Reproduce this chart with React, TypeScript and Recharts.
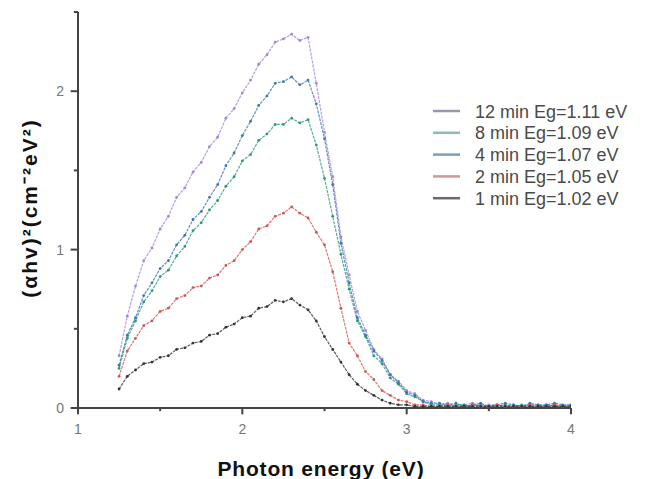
import React from 'react';
import { LineChart, Line, XAxis, YAxis, ReferenceLine } from 'recharts';

const energy = [
  1.25, 1.3, 1.35, 1.4, 1.45, 1.5, 1.55, 1.6, 1.65, 1.7, 1.75, 1.8, 1.85, 1.9, 1.95,
  2.0, 2.05, 2.1, 2.15, 2.2, 2.25, 2.3, 2.35, 2.4, 2.45, 2.5, 2.55, 2.6, 2.65, 2.7,
  2.75, 2.8, 2.85, 2.9, 2.95, 3.0, 3.05, 3.1, 3.15, 3.2, 3.25, 3.3, 3.35, 3.4, 3.45,
  3.5, 3.55, 3.6, 3.65, 3.7, 3.75, 3.8, 3.85, 3.9, 3.95, 4.0,
];

const min12 = [
  0.33, 0.58, 0.77, 0.93, 1.01, 1.13, 1.21, 1.33, 1.39, 1.49, 1.55, 1.65, 1.71, 1.83, 1.89,
  1.99, 2.07, 2.17, 2.23, 2.31, 2.33, 2.36, 2.32, 2.34, 2.05, 1.74, 1.46, 1.08, 0.84, 0.61,
  0.49, 0.37, 0.31, 0.21, 0.17, 0.11, 0.09, 0.05, 0.04, 0.02, 0.03, 0.01, 0.02, 0.03, 0.01,
  0.02, 0.02, 0.01, 0.02, 0.01, 0.02, 0.02, 0.01, 0.02, 0.01, 0.02,
];

const min8 = [
  0.25, 0.44, 0.55, 0.67, 0.74, 0.83, 0.87, 0.96, 1.02, 1.12, 1.17, 1.25, 1.31, 1.4, 1.46,
  1.56, 1.6, 1.69, 1.73, 1.79, 1.79, 1.83, 1.8, 1.82, 1.66, 1.45, 1.21, 0.97, 0.75, 0.55,
  0.45, 0.33, 0.28, 0.19, 0.15, 0.09, 0.07, 0.04, 0.02, 0.02, 0.01, 0.02, 0.02, 0.01, 0.02,
  0.01, 0.01, 0.02, 0.01, 0.02, 0.01, 0.01, 0.02, 0.01, 0.01, 0.01,
];

const min4 = [
  0.27, 0.46, 0.57, 0.71, 0.79, 0.88, 0.93, 1.03, 1.09, 1.19, 1.24, 1.33, 1.41, 1.53, 1.61,
  1.72, 1.81, 1.91, 1.97, 2.05, 2.06, 2.09, 2.04, 2.07, 1.92, 1.7, 1.41, 1.04, 0.79, 0.57,
  0.46, 0.36, 0.3, 0.21, 0.16, 0.1, 0.08, 0.04, 0.03, 0.03, 0.02, 0.03, 0.01, 0.02, 0.03,
  0.01, 0.02, 0.03, 0.02, 0.01, 0.03, 0.02, 0.02, 0.03, 0.02, 0.02,
];

const min2 = [
  0.2, 0.36, 0.44, 0.52, 0.55, 0.61, 0.63, 0.69, 0.71, 0.76, 0.77, 0.82, 0.84, 0.9, 0.93,
  1.0, 1.05, 1.13, 1.15, 1.21, 1.23, 1.27, 1.23, 1.2, 1.11, 1.03, 0.86, 0.63, 0.41, 0.33,
  0.23, 0.18, 0.11, 0.08, 0.05, 0.04, 0.02, 0.02, 0.01, 0.01, 0.02, 0.01, 0.01, 0.02, 0.01,
  0.01, 0.02, 0.01, 0.01, 0.01, 0.02, 0.01, 0.01, 0.02, 0.01, 0.01,
];

const min1 = [
  0.12, 0.2, 0.24, 0.28, 0.29, 0.32, 0.33, 0.37, 0.38, 0.41, 0.42, 0.46, 0.47, 0.51, 0.53,
  0.57, 0.58, 0.63, 0.64, 0.68, 0.67, 0.69, 0.65, 0.62, 0.55, 0.45, 0.37, 0.29, 0.21, 0.15,
  0.11, 0.08, 0.05, 0.03, 0.02, 0.02, 0.01, 0.01, 0.01, 0.01, 0.01, 0.01, 0.01, 0.01, 0.01,
  0.01, 0.01, 0.01, 0.01, 0.01, 0.01, 0.01, 0.01, 0.01, 0.01, 0.01,
];

const legendLabels = [
  '12 min Eg=1.11 eV',
  '8 min Eg=1.09 eV',
  '4 min Eg=1.07 eV',
  '2 min Eg=1.05 eV',
  '1 min Eg=1.02 eV',
];

const seriesKeys = ['s12', 's8', 's4', 's2', 's1'];
const seriesColors = ['#a585d6', '#2b9c72', '#3a76b8', '#d25552', '#333333'];
const legendColors = ['#9f93b3', '#8cbfa8', '#7d9cc0', '#c99a98', '#6a6a6a'];

const xTicks = [1, 1.5, 2, 2.5, 3, 3.5, 4];
const yTicks = [0, 0.5, 1, 1.5, 2, 2.5];

const rows = energy.map((e, i) => ({
  e,
  s12: min12[i],
  s8: min8[i],
  s4: min4[i],
  s2: min2[i],
  s1: min1[i],
}));

const FONT = '"Liberation Sans", Arial, sans-serif';

const XTick = (props: any) => {
  const { x, y, payload } = props;
  if (!Number.isInteger(payload.value)) return <g />;
  return (
    <text x={x} y={y + 20} textAnchor="middle" fontSize={14} fill="#777" fontFamily={FONT}>
      {payload.value}
    </text>
  );
};

const YTick = (props: any) => {
  const { x, y, payload } = props;
  if (!Number.isInteger(payload.value)) return <g />;
  return (
    <text x={x - 8} y={y + 5} textAnchor="end" fontSize={14} fill="#777" fontFamily={FONT}>
      {payload.value}
    </text>
  );
};

export default function App() {
  const order = [0, 1, 2, 3, 4];
  return (
    <div style={{ position: 'absolute', left: 0, top: 0, width: 645, height: 479, background: '#fff' }}>
      <LineChart
        width={645}
        height={479}
        data={rows}
        margin={{ top: 12, right: 74, bottom: 70, left: 77 }}
      >
        <XAxis
          dataKey="e"
          type="number"
          domain={[1, 4]}
          ticks={xTicks}
          interval={0}
          tickSize={6}
          tickMargin={0}
          height={1}
          tick={<XTick />}
          tickLine={false}
          axisLine={{ stroke: '#444', strokeWidth: 2 }}
          allowDataOverflow
        />
        <YAxis
          type="number"
          domain={[0, 2.5]}
          ticks={yTicks}
          interval={0}
          tickSize={6}
          tickMargin={0}
          width={1}
          tick={<YTick />}
          tickLine={false}
          axisLine={{ stroke: '#444', strokeWidth: 2 }}
          allowDataOverflow
        />
        {xTicks.map((v) => (
          <ReferenceLine
            key={'xt' + v}
            segment={[
              { x: v, y: 0 },
              { x: v, y: Number.isInteger(v) ? -0.04 : -0.02 },
            ]}
            stroke="#444"
            strokeWidth={2}
            ifOverflow="visible"
          />
        ))}
        {yTicks.map((v) => (
          <ReferenceLine
            key={'yt' + v}
            segment={[
              { x: 1, y: v },
              { x: Number.isInteger(v) ? 0.955 : 0.975, y: v },
            ]}
            stroke="#444"
            strokeWidth={2}
            ifOverflow="visible"
          />
        ))}
        {order.map((i) => (
          <Line
            key={seriesKeys[i]}
            dataKey={seriesKeys[i]}
            type="linear"
            stroke={seriesColors[i]}
            strokeWidth={1.2}
            strokeOpacity={0.8}
            strokeDasharray="3 1"
            dot={{ r: 1.4, fill: seriesColors[i], stroke: 'none' }}
            activeDot={false}
            isAnimationActive={false}
          />
        ))}
      </LineChart>
      <svg
        width={645}
        height={479}
        style={{ position: 'absolute', left: 0, top: 0, pointerEvents: 'none' }}
      >
        <text
          transform="rotate(-90)"
          x={-208}
          y={37}
          textAnchor="middle"
          fontSize={21}
          fontWeight="bold"
          fontFamily={FONT}
          fill="#111"
          letterSpacing={2}
        >
          (αhv)²(cm⁻²eV²)
        </text>
        <text
          x={321}
          y={476}
          textAnchor="middle"
          fontSize={21}
          fontWeight="bold"
          fontFamily={FONT}
          fill="#111"
          letterSpacing={0.8}
        >
          Photon energy (eV)
        </text>
        {legendLabels.map((label, i) => {
          const cy = 111 + i * 21.8;
          return (
            <g key={label}>
              <line x1={433} y1={cy} x2={460} y2={cy} stroke={legendColors[i]} strokeWidth={2.5} />
              <text
                x={475}
                y={cy + 6.5}
                fontSize={18}
                fontFamily={FONT}
                fill="#4a4a4a"
              >
                {label}
              </text>
            </g>
          );
        })}
      </svg>
    </div>
  );
}
